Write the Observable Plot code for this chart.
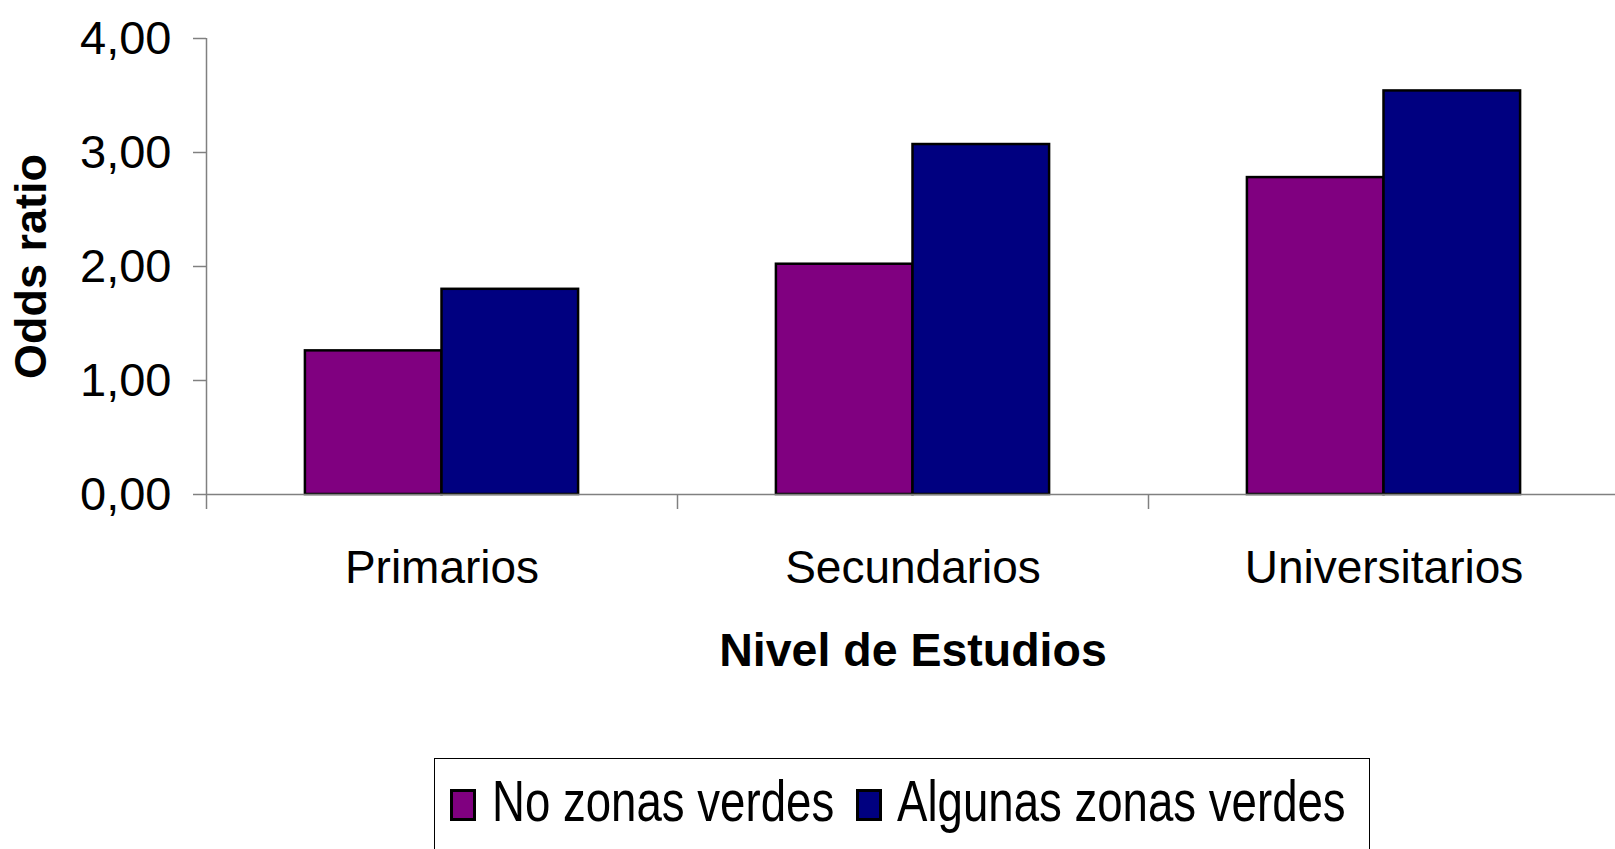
<!DOCTYPE html>
<html>
<head>
<meta charset="utf-8">
<script src="https://cdn.jsdelivr.net/npm/d3@7"></script>
<script src="https://cdn.jsdelivr.net/npm/@observablehq/plot@0.6"></script>
<style>
  html, body { margin: 0; padding: 0; background: #fff; overflow: hidden; }
  #wrap { position: relative; width: 1615px; height: 849px; }
  #legend { position: absolute; left: 434px; top: 758px; width: 936px; height: 120px;
            border: 1.5px solid #000; box-sizing: border-box; background: #fff;
            font-family: "Liberation Sans", Arial, sans-serif; }
  .sw { position: absolute; width: 20px; height: 26px; border: 3px solid #000; top: 30px; }
  .lt { position: absolute; top: 14px; font-size: 57px; line-height: 57px; white-space: nowrap;
        transform: scaleX(0.80); transform-origin: left center; color: #000; }
</style>
</head>
<body>
<div id="wrap"></div>
<script>
const categories = ["Primarios", "Secundarios", "Universitarios"];
const seriesNames = ["No zonas verdes", "Algunas zonas verdes"];
const noZonasVerdes = [1.26, 2.02, 2.78];
const algunasZonasVerdes = [1.80, 3.07, 3.54];
const seriesColors = ["#800080", "#000080"];
const yTicks = [0, 1, 2, 3, 4];
const yLabel = "Odds ratio";
const xLabel = "Nivel de Estudios";

const seriesValues = [noZonasVerdes, algunasZonasVerdes];
const groupOffset = 0.21, barWidth = 0.29;
const data = [];
categories.forEach((c, i) => {
  seriesNames.forEach((s, j) => {
    data.push({category: c, series: s, value: seriesValues[j][i],
               x1: i + groupOffset + j * barWidth, x2: i + groupOffset + (j + 1) * barWidth});
  });
});

const fmt = d => d.toFixed(2).replace(".", ",");

const chart = Plot.plot({
  width: 1615,
  height: 700,
  marginTop: 38,
  marginBottom: 206,
  marginLeft: 206,
  marginRight: -4,
  style: {fontFamily: "'Liberation Sans', Arial, sans-serif", background: "#fff", overflow: "visible", color: "#000"},
  x: {domain: [0, 3]},
  y: {domain: [0, 4]},
  color: {domain: seriesNames, range: seriesColors},
  marks: [
    Plot.rectY(data, {x1: "x1", x2: "x2", y: "value", fill: "series", stroke: "#000", strokeWidth: 2.5}),
    Plot.ruleY([0], {stroke: "#808080", strokeWidth: 1.5}),
    Plot.ruleX([0], {stroke: "#808080", strokeWidth: 1.5}),
    Plot.axisY({ticks: yTicks, tickFormat: fmt, tickSize: 13, tickPadding: 22, fontSize: 47,
                stroke: "#808080", strokeWidth: 1.5, fill: "#000", label: null}),
    Plot.axisX({ticks: [0, 1, 2, 3], tickSize: 15, tickFormat: () => "", stroke: "#808080",
                strokeWidth: 1.5, label: null}),
    Plot.axisX({ticks: categories.map((c, i) => i + 0.5), tickSize: 0, tickPadding: 56,
                tickFormat: d => categories[Math.floor(d)], fontSize: 46, fill: "#000", label: null}),
    Plot.text([xLabel], {frameAnchor: "bottom", dy: 171, fontSize: 46.5, fontWeight: "bold", fill: "#000",
                         lineAnchor: "bottom", textAnchor: "middle"}),
    Plot.text([yLabel], {frameAnchor: "left", dx: -175, rotate: -90, fontSize: 45, fontWeight: "bold",
                         fill: "#000", lineAnchor: "middle", textAnchor: "middle", letterSpacing: "2px"})
  ]
});

const wrap = document.getElementById("wrap");
wrap.appendChild(chart);

const legend = document.createElement("div");
legend.id = "legend";
const swLeft = [15, 421];
const txLeft = [57, 462];
seriesNames.forEach((s, j) => {
  const sw = document.createElement("div");
  sw.className = "sw";
  sw.style.left = swLeft[j] + "px";
  sw.style.background = seriesColors[j];
  legend.appendChild(sw);
  const t = document.createElement("div");
  t.className = "lt";
  t.style.left = txLeft[j] + "px";
  t.textContent = s;
  legend.appendChild(t);
});
wrap.appendChild(legend);
</script>
</body>
</html>
